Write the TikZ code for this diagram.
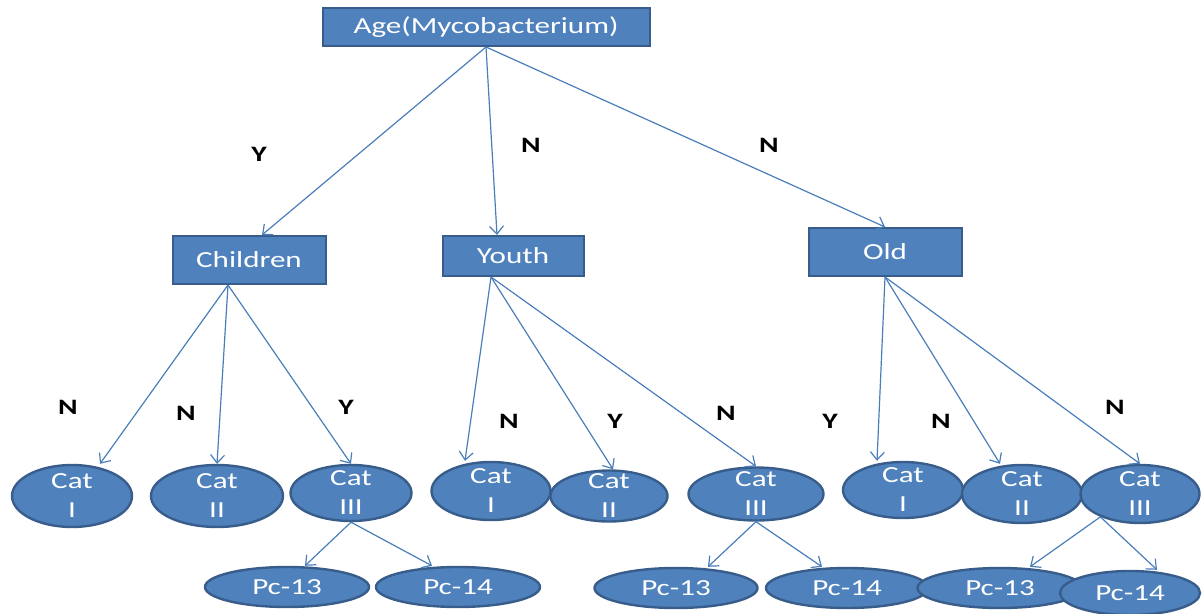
\documentclass[tikz,border=0pt]{standalone}
\usepackage{fontspec}
\setmainfont{Carlito}[FakeStretch=1.35]
\usepackage{tikz}
\usetikzlibrary{shapes.geometric,arrows.meta}
\definecolor{boxblue}{HTML}{4F81BD}
\definecolor{rimblue}{HTML}{385D8A}
\definecolor{lineblue}{HTML}{4A7EBB}

\begin{document}
\begin{tikzpicture}[x=0.5pt,y=-0.5pt,
  box/.style={draw=rimblue,fill=boxblue,line width=1pt,text=white,inner sep=0pt,
    font=\fontsize{11.5}{14.5}\selectfont},
  leaf/.style={ellipse,draw=rimblue,fill=boxblue,line width=1.2pt,text=white,inner sep=0pt,
    font=\fontsize{11.5}{14.5}\selectfont},
  cattext/.style={text=white,align=center,inner sep=0pt,font=\fontsize{11.5}{14.5}\selectfont},
  edge/.style={draw=lineblue,line width=0.6pt,-{Straight Barb[length=4pt,width=7pt]}},
  yn/.style={font=\fontsize{11}{13}\selectfont\bfseries}]
%\draw[help lines,step=50] (0,0) grid (1203,614);
\useasboundingbox (0,0) rectangle (1203,614);

% top level
\node[box,minimum width=163.5pt,minimum height=19pt] (root) at (486,27) {Age(Mycobacterium)};
\node[box,minimum width=76.5pt,minimum height=24pt] (child) at (249,260) {Children};
\node[box,minimum width=70.5pt,minimum height=20pt] (youth) at (513,256) {Youth};
\node[box,minimum width=76.5pt,minimum height=24pt] (old) at (885,252) {Old};

\draw[edge] (root.south) -- ([xshift=6.5pt]child.north);
\draw[edge] (root.south) -- ([xshift=-8pt]youth.north);
\draw[edge] (root.south) -- (old.north);
\node[yn] (ynA) at (259,154) {Y};
\node[yn] (ynB) at (531,145) {N};
\node[yn] (ynC) at (769,145) {N};

% children
\node[leaf,minimum width=60pt,minimum height=31pt,label={[cattext]center:Cat\\I}] (cc1) at (72,496) {};
\node[leaf,minimum width=66pt,minimum height=31pt,label={[cattext]center:Cat\\II}] (cc2) at (217,496) {};
\node[leaf,minimum width=60.5pt,minimum height=28pt,label={[cattext]center:Cat\\III}] (cc3) at (351,493) {};
\coordinate (chb) at ([xshift=-10.5pt]child.south);
\draw[edge] (chb) -- ([xshift=14pt]cc1.north);
\draw[edge] (chb) -- (cc2.north);
\draw[edge] (chb) -- (cc3.north);
\node[yn] (ynD) at (68,407) {N};
\node[yn] (ynE) at (186,413) {N};
\node[yn] (ynF) at (346,407) {Y};
\node[leaf,minimum width=82pt,minimum height=20pt] (cp13) at (287,587) {Pc-13};
\node[leaf,minimum width=82pt,minimum height=20pt] (cp14) at (458,587) {Pc-14};
\draw[edge] (cc3.south) -- ([xshift=9pt]cp13.north);
\draw[edge] (cc3.south) -- ([xshift=-13pt]cp14.north);

% youth
\node[leaf,minimum width=59.5pt,minimum height=29pt,label={[cattext]center:Cat\\I}] (yc1) at (491,491) {};
\node[leaf,minimum width=58.5pt,minimum height=25.5pt,label={[cattext]center:Cat\\II}] (yc2) at (609,496) {};
\node[leaf,minimum width=67.5pt,minimum height=26.5pt,label={[cattext]center:Cat\\III}] (yc3) at (756,494) {};
\coordinate (ytb) at ([xshift=-11pt]youth.south);
\draw[edge] (ytb) -- ([xshift=-13pt]yc1.north);
\draw[edge] (ytb) -- ([xshift=2pt]yc2.north);
\draw[edge] (ytb) -- (yc3.north);
\node[yn] (ynG) at (509,421) {N};
\node[yn] (ynH) at (615,421) {Y};
\node[yn] (ynI) at (726,413) {N};
\node[leaf,minimum width=81.5pt,minimum height=20pt] (yp13) at (676,588) {Pc-13};
\node[leaf,minimum width=81pt,minimum height=20pt] (yp14) at (847,588) {Pc-14};
\draw[edge] (yc3.south) -- ([xshift=16pt]yp13.north);
\draw[edge] (yc3.south) -- ([xshift=-12.5pt]yp14.north);

% old
\node[leaf,minimum width=60pt,minimum height=28pt,label={[cattext]center:Cat\\I}] (oc1) at (903,490) {};
\node[leaf,minimum width=60pt,minimum height=29pt,label={[cattext]center:Cat\\II}] (oc2) at (1022,494) {};
\node[leaf,minimum width=59.5pt,minimum height=29pt,label={[cattext]center:Cat\\III}] (oc3) at (1140,494) {};
\draw[edge] (old.south) -- ([xshift=-13pt]oc1.north);
\draw[edge] (old.south) -- ([xshift=-11pt]oc2.north);
\draw[edge] (old.south) -- (oc3.north);
\node[yn] (ynJ) at (830,421) {Y};
\node[yn] (ynK) at (941,421) {N};
\node[yn] (ynL) at (1115,407) {N};
\node[leaf,minimum width=82.5pt,minimum height=20pt] (op13) at (1000,588) {Pc-13};
\node[leaf,minimum width=70pt,minimum height=22pt] (op14) at (1130,593) {Pc-14};
\draw[edge] (oc3.210) -- ([xshift=15pt]op13.north);
\draw[edge] (oc3.210) -- ([xshift=13.5pt]op14.north);
\end{tikzpicture}
\end{document}
